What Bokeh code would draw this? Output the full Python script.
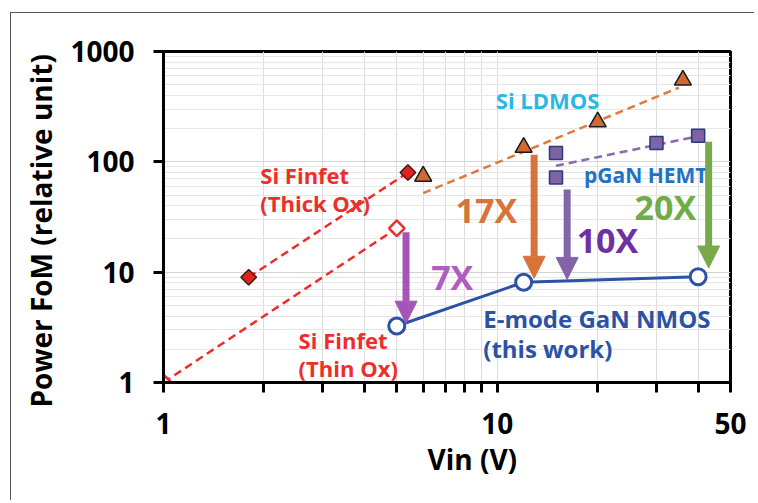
from bokeh.plotting import figure
from bokeh.models import (FixedTicker, CustomJSTickFormatter, Arrow, NormalHead,
                          ColumnDataSource, Title)
from bokeh.core.properties import value
from bokeh.embed import file_html
from bokeh.resources import INLINE

# ---------------- data ----------------
thick_v = [1.8, 5.4]
thick_fom = [9, 80]
thin_v = [1, 5]
thin_fom = [1, 25]
ldmos_v = [6, 12, 20, 36]
ldmos_fom = [74, 135, 230, 550]
ldmos_fit_v = [6, 35]
ldmos_fit_fom = [52, 470]
hemt_v = [15, 15, 30, 40]
hemt_fom = [120, 72, 148, 172]
hemt_fit_v = [15, 39]
hemt_fit_fom = [92, 168]
gan_v = [5, 12, 40]
gan_fom = [3.25, 8.1, 9.1]

arrow_v = [5.33, 12.9, 16.2, 43.0]
arrow_from = [23, 116, 56, 152]
arrow_to = [3.45, 8.8, 8.6, 10.9]

x_ticks = [1, 2, 3, 4, 5, 6, 7, 8, 9, 10, 20, 30, 40, 50]
x_tick_labels = [1, 10, 50]
y_ticks = [1, 10, 100, 1000]
y_minor = [m * d for d in (1, 10, 100) for m in range(2, 10)]

x_title = "Vin (V)"
y_title = "Power FoM (relative unit)"

FONT = "Open Sans"

p = figure(width=754, height=500, x_axis_type="log", y_axis_type="log",
           x_range=(1, 50), y_range=(1, 1000), output_backend="svg",
           toolbar_location=None, min_border_left=163, min_border_right=24,
           min_border_top=51, min_border_bottom=118)
p.styles = {"box-shadow": "inset 10px 12px 0 0 white, inset 11px 13px 0 0 #555555"}

p.background_fill_color = "white"
p.border_fill_color = None
p.outline_line_color = "black"
p.outline_line_width = 3

# axes
p.xaxis.ticker = FixedTicker(ticks=x_ticks, minor_ticks=[])
p.yaxis.ticker = FixedTicker(ticks=y_ticks, minor_ticks=y_minor)
lab = ",".join(str(v) for v in x_tick_labels)
p.xaxis.formatter = CustomJSTickFormatter(
    code=f"const t = Math.round(tick*1000)/1000; return [{lab}].includes(t) ? String(t) : '';")
p.yaxis.formatter = CustomJSTickFormatter(code="return String(Math.round(tick));")
for ax in (p.xaxis, p.yaxis):
    ax.axis_line_width = 3
    ax.axis_line_color = "black"
    ax.major_tick_line_width = 3
    ax.major_tick_line_color = "black"
    ax.major_tick_out = 10
    ax.major_tick_in = 0
    ax.minor_tick_line_color = None
    ax.major_label_text_font = FONT
    ax.major_label_text_font_style = "bold"
    ax.major_label_text_font_size = "28px"
    ax.major_label_text_color = "black"
p.xaxis.major_label_standoff = 20
p.yaxis.major_label_standoff = 19

# axis titles as side titles (offset along the axis like the original)
title_style = dict(text_font=FONT, text_font_style="bold", text_font_size="28px",
                   text_color="black", align="left")
p.add_layout(Title(text=x_title, offset=264, standoff=6, vertical_align="top",
                   **title_style), "below")
p.add_layout(Title(text=y_title, offset=-25, standoff=14, vertical_align="middle",
                   **title_style), "left")

# grid
p.xgrid.grid_line_color = "#dddddd"
p.xgrid.grid_line_width = 1
p.ygrid.grid_line_color = "#d2d2d2"
p.ygrid.grid_line_width = 1
p.ygrid.minor_grid_line_color = "#e6e6e6"
p.ygrid.minor_grid_line_width = 1

# trend lines
RED = "#ee2e2a"
p.line(thick_v, thick_fom, line_color=RED, line_width=2.5, line_dash="8 5")
p.line(thin_v, thin_fom, line_color=RED, line_width=2.5, line_dash="8 5")
p.line(ldmos_fit_v, ldmos_fit_fom, line_color="#e07a3c", line_width=2.5, line_dash="8 5")
p.line(hemt_fit_v, hemt_fit_fom, line_color="#8a68b0", line_width=2.5, line_dash="8 5")
p.line(gan_v, gan_fom, line_color="#2c52a6", line_width=3)

# arrows
arrow_colors = ["#a654b6", "#d8743a", "#8464a8", "#78aa4a"]
for xv, y0, y1, c in zip(arrow_v, arrow_from, arrow_to, arrow_colors):
    p.add_layout(Arrow(end=NormalHead(size=22, fill_color=c, line_color=c, line_width=1),
                       x_start=xv, y_start=y0, x_end=xv, y_end=y1,
                       line_color=c, line_width=7))

# markers
p.scatter(thick_v, thick_fom, marker="square", angle=0.785398, size=11,
          fill_color="#e2231c", line_color="#3a1a1a", line_width=1.5)
p.scatter(thin_v, thin_fom, marker="square", angle=0.785398, size=11,
          fill_color="white", line_color=RED, line_width=2.5)
p.scatter(ldmos_v, ldmos_fom, marker="triangle", size=17,
          fill_color="#d06a30", line_color="#1a1a1a", line_width=1.5)
p.scatter(hemt_v, hemt_fom, marker="square", size=13,
          fill_color="#8062a6", line_color="#2a3a78", line_width=1.5)
p.scatter(gan_v, gan_fom, marker="circle", size=16,
          fill_color="white", line_color="#2c52a6", line_width=3)

# annotation texts
label_text = ["Si Finfet", "(Thick Ox)", "Si Finfet", "(Thin Ox)", "Si LDMOS",
              "pGaN HEMT", "17X", "10X", "20X", "7X", "E-mode GaN NMOS", "(this work)"]
label_x = [1.95, 1.95, 2.54, 2.54, 9.9, 18.2, 7.5, 17.3, 25.8, 6.34, 9.08, 9.08]
label_y = [76, 42, 2.41, 1.34, 366, 76, 36.6, 19.5, 39, 9.0, 3.82, 2.04]
label_color = [RED, RED, RED, RED, "#2ab6e6", "#1f72c4", "#d8743a", "#7030a0",
               "#72ac48", "#b05cc0", "#2c52a6", "#2c52a6"]
label_size = ["22px", "22px", "22px", "22px", "22px", "21px", "34px", "34px",
              "34px", "34px", "24px", "24px"]
src = ColumnDataSource(dict(x=label_x, y=label_y, text=label_text,
                            color=label_color, size=label_size))
p.text(x="x", y="y", text="text", source=src, text_color="color",
       text_font_size="size", text_font=value(FONT), text_font_style="bold",
       text_align="left", text_baseline="middle")

open("out.html", "w").write(file_html(p, INLINE))
